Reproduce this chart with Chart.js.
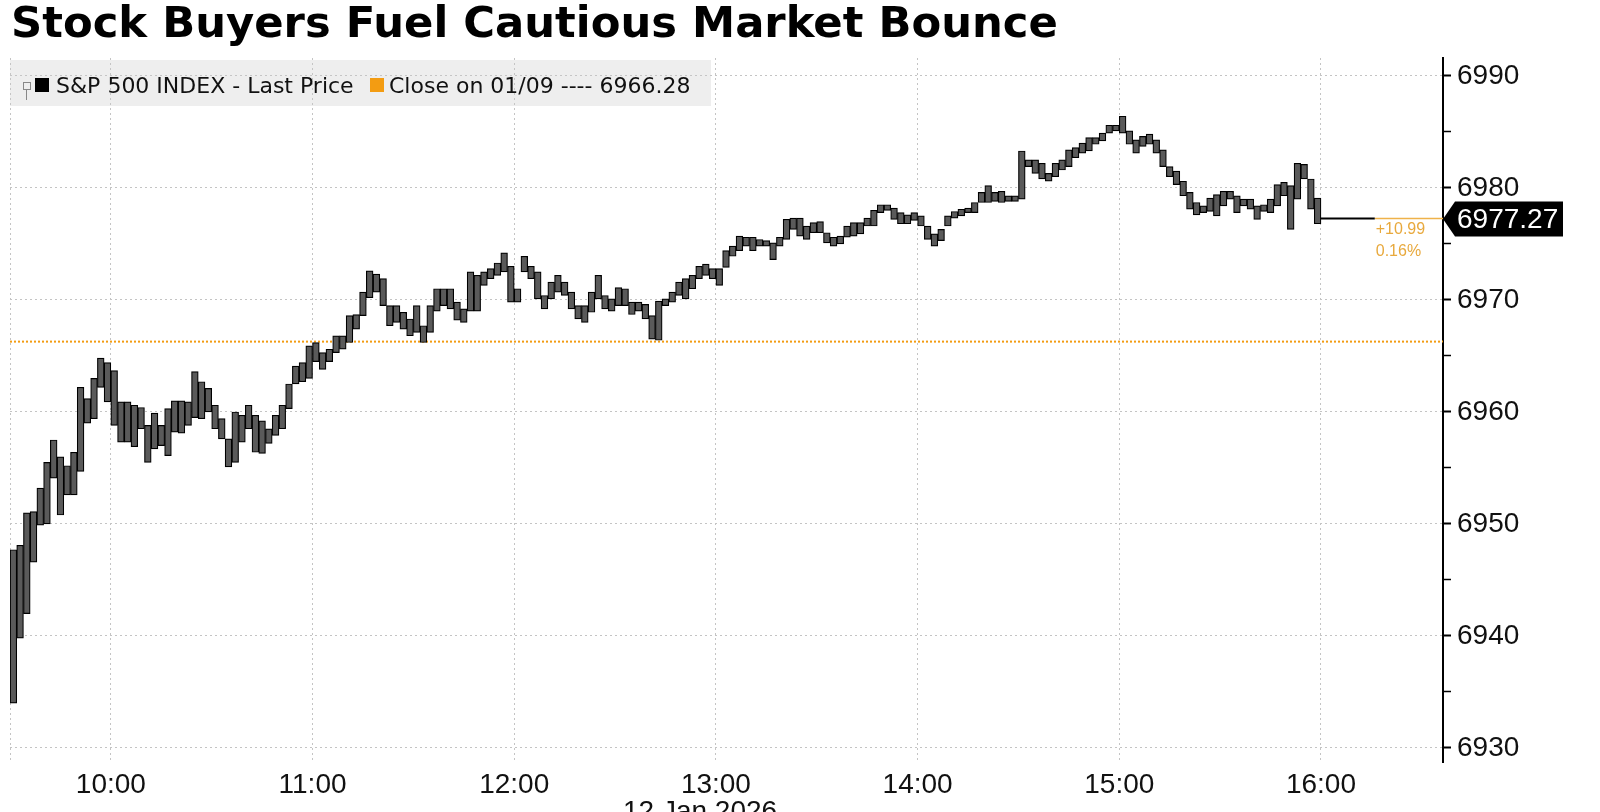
<!DOCTYPE html>
<html>
<head>
<meta charset="utf-8">
<script src="https://cdn.jsdelivr.net/npm/chart.js@4.4.1/dist/chart.umd.min.js"></script>
<style>
  html, body { margin: 0; padding: 0; background: #fff; overflow: hidden; }
  #wrap { position: relative; width: 1600px; height: 812px; overflow: hidden; }
  #chart { position: absolute; left: 0; top: 0; }
  #title { position: absolute; left: 11px; top: 1px; font: bold 43.3px "DejaVu Sans"; line-height: 1; white-space: nowrap; color: #000; }
  #legend { position: absolute; left: 10px; top: 60px; width: 701px; height: 46px; background: rgba(200, 200, 200, 0.3); }
  #legend span { position: absolute; font: 22px "DejaVu Sans"; line-height: 22px; white-space: nowrap; color: #111; top: 15px; }
  .sq { position: absolute; width: 14px; height: 14px; top: 18px; }
  .ico { position: absolute; left: 13px; top: 22px; width: 6px; height: 6px; border: 1px solid #888; }
  .stem { position: absolute; left: 16px; top: 30px; width: 1px; height: 10px; background: #888; }
  #date { position: absolute; left: 623px; top: 797px; font: 28px "Liberation Sans"; line-height: 28px; white-space: nowrap; color: #111; }
</style>
</head>
<body>
<div id="wrap">
  <canvas id="chart" width="1600" height="812"></canvas>
  <div id="title">Stock Buyers Fuel Cautious Market Bounce</div>
  <div id="legend">
    <div class="ico"></div><div class="stem"></div>
    <div class="sq" style="left:25px;background:#000"></div>
    <span id="lg1" style="left:46px"></span>
    <div class="sq" style="left:360px;background:#f39c12"></div>
    <span id="lg2" style="left:379px"></span>
  </div>
  <div id="date">12 Jan 2026</div>
</div>
<script>
// 2-minute bars from 09:30, S&P 500 intraday, 12 Jan 2026
const barHighs = [
  6947.7, 6948.1, 6951.0, 6951.1, 6953.2, 6955.5, 6957.5, 6956.0, 6955.2, 6956.4,
  6962.2, 6961.2, 6963.0, 6964.8, 6964.4, 6963.7, 6960.9, 6960.9, 6960.6, 6960.4,
  6958.8, 6959.9, 6958.8, 6960.3, 6961.0, 6961.0, 6960.9, 6963.6, 6962.7, 6962.1,
  6960.6, 6959.4, 6957.6, 6960.0, 6959.7, 6960.6, 6959.7, 6959.2, 6958.5, 6959.7,
  6960.6, 6962.5, 6964.1, 6964.4, 6965.9, 6966.2, 6965.3, 6965.6, 6966.8, 6966.8,
  6968.6, 6968.7, 6970.7, 6972.6, 6972.3, 6971.9, 6969.5, 6969.5, 6968.9, 6968.3,
  6969.5, 6967.7, 6969.5, 6971.0, 6971.0, 6971.0, 6969.8, 6969.2, 6972.5, 6972.2,
  6972.5, 6972.8, 6973.3, 6974.2, 6973.0, 6971.0, 6973.9, 6973.0, 6972.5, 6970.4,
  6971.6, 6972.2, 6971.6, 6970.7, 6969.5, 6969.5, 6970.7, 6972.2, 6970.4, 6970.1,
  6971.1, 6971.0, 6969.8, 6969.8, 6969.6, 6968.6, 6969.9, 6970.1, 6970.7, 6971.6,
  6971.9, 6972.2, 6973.0, 6973.2, 6972.8, 6972.8, 6974.4, 6974.8, 6975.7, 6975.6,
  6975.6, 6975.4, 6975.3, 6975.1, 6975.6, 6977.2, 6977.3, 6977.3, 6976.6, 6976.9,
  6977.0, 6976.0, 6975.6, 6975.7, 6976.6, 6976.9, 6976.9, 6977.3, 6978.0, 6978.5,
  6978.5, 6978.2, 6977.8, 6977.6, 6977.8, 6977.5, 6976.6, 6975.9, 6976.3, 6977.5,
  6977.9, 6978.1, 6978.2, 6978.7, 6979.6, 6980.2, 6979.6, 6979.7, 6979.3, 6979.3,
  6983.3, 6982.5, 6982.5, 6982.2, 6981.3, 6982.2, 6982.5, 6983.4, 6983.6, 6984.0,
  6984.5, 6984.5, 6984.9, 6985.6, 6985.6, 6986.4, 6985.1, 6984.3, 6984.6, 6984.8,
  6984.3, 6983.4, 6981.9, 6981.5, 6980.6, 6979.6, 6978.7, 6978.4, 6979.1, 6979.4,
  6979.7, 6979.7, 6979.3, 6979.0, 6979.0, 6978.4, 6978.5, 6979.0, 6980.3, 6980.5,
  6980.2, 6982.2, 6982.1, 6980.8, 6979.1
];
const barLows = [
  6934.0, 6939.8, 6942.0, 6946.6, 6949.9, 6950.0, 6954.1, 6950.8, 6952.6, 6952.6,
  6954.7, 6959.0, 6959.4, 6962.2, 6960.9, 6958.8, 6957.3, 6957.3, 6956.9, 6958.5,
  6955.5, 6956.7, 6957.0, 6956.1, 6958.2, 6958.1, 6958.8, 6959.5, 6959.4, 6960.0,
  6958.5, 6957.6, 6955.1, 6955.5, 6957.3, 6958.5, 6956.4, 6956.3, 6957.2, 6957.9,
  6958.5, 6960.3, 6962.5, 6962.7, 6963.0, 6964.5, 6963.8, 6964.5, 6965.3, 6965.6,
  6966.2, 6967.4, 6968.6, 6970.2, 6970.7, 6969.5, 6967.7, 6968.0, 6967.4, 6966.8,
  6967.1, 6966.2, 6967.1, 6969.0, 6969.5, 6969.2, 6968.2, 6968.0, 6969.0, 6969.0,
  6971.3, 6971.9, 6972.2, 6972.5, 6969.8, 6969.8, 6972.5, 6971.9, 6970.1, 6969.2,
  6970.1, 6970.7, 6970.4, 6969.2, 6968.3, 6968.0, 6968.9, 6970.1, 6969.2, 6969.0,
  6969.5, 6969.5, 6968.7, 6969.0, 6968.3, 6966.5, 6966.4, 6969.5, 6969.8, 6970.4,
  6970.1, 6971.0, 6971.9, 6972.2, 6971.9, 6971.3, 6972.9, 6973.9, 6974.4, 6974.8,
  6974.4, 6974.8, 6974.8, 6973.6, 6974.8, 6975.4, 6976.3, 6975.7, 6975.4, 6976.0,
  6976.0, 6975.1, 6974.8, 6975.0, 6975.6, 6975.7, 6975.9, 6976.6, 6976.6, 6977.8,
  6978.0, 6977.2, 6976.8, 6976.8, 6977.1, 6976.6, 6975.4, 6974.8, 6975.3, 6976.6,
  6977.3, 6977.5, 6977.8, 6977.8, 6978.7, 6978.7, 6978.8, 6978.7, 6978.8, 6978.8,
  6979.0, 6981.9, 6981.3, 6980.8, 6980.6, 6981.0, 6981.6, 6981.9, 6982.7, 6983.1,
  6983.3, 6983.9, 6984.2, 6984.9, 6985.1, 6984.9, 6983.9, 6983.1, 6983.7, 6983.9,
  6983.1, 6981.9, 6981.0, 6980.3, 6979.3, 6978.1, 6977.6, 6977.8, 6977.9, 6977.5,
  6978.4, 6979.0, 6977.8, 6978.4, 6978.1, 6977.2, 6977.9, 6977.8, 6978.4, 6979.3,
  6976.3, 6979.0, 6980.8, 6978.1, 6976.8
];
const barMinutes = barHighs.map((_, i) => 2 * i + 1); // centre of each 2-min bar, minutes after 09:30

const prevClose = 6966.28;
const lastPrice = 6977.27;
const netChange = 10.99;
const pctChange = 0.16;
const afterCloseMinutes = [390, 406]; // flat last price after 16:00

const xTickMinutes = [0, 30, 90, 150, 210, 270, 330, 390];
const xTickLabels = ['', '10:00', '11:00', '12:00', '13:00', '14:00', '15:00', '16:00'];
const yTicks = [6930, 6935, 6940, 6945, 6950, 6955, 6960, 6965, 6970, 6975, 6980, 6985, 6990];

const xMax = 426.3;

document.getElementById('lg1').textContent = 'S&P 500 INDEX - Last Price';
document.getElementById('lg2').textContent = 'Close on 01/09 ---- ' + prevClose.toFixed(2);

const tagPlugin = {
  id: 'lastTag',
  afterDraw(chart) {
    const { ctx, scales: { x, y } } = chart;
    const py = Math.round(y.getPixelForValue(lastPrice));
    const ax = x.right;
    ctx.save()
    ctx.fillStyle = '#000'
    ctx.beginPath()
    ctx.moveTo(ax, py)
    ctx.lineTo(ax + 12, py - 17.5)
    ctx.lineTo(1563, py - 17.5)
    ctx.lineTo(1563, py + 17.5)
    ctx.lineTo(ax + 12, py + 17.5)
    ctx.closePath()
    ctx.fill()
    ctx.fillStyle = '#fff'
    ctx.font = '28px "Liberation Sans"'
    ctx.textBaseline = 'middle'
    ctx.fillText(lastPrice.toFixed(2), ax + 14, py + 1)
    ctx.fillStyle = '#e8a93d'
    ctx.font = '16px "Liberation Sans"'
    ctx.textBaseline = 'top'
    const tx = x.getPixelForValue(afterCloseMinutes[1]) + 1
    ctx.fillText('+' + netChange.toFixed(2), tx, py + 3)
    ctx.fillText(pctChange.toFixed(2) + '%', tx, py + 25)
    ctx.restore()
  }
};

const gridGray = '#c4c4c4';

new Chart(document.getElementById('chart'), {
  data: {
    datasets: [
      {
        type: 'bar',
        label: 'S&P 500 INDEX - Last Price',
        data: barMinutes.map((m, i) => ({ x: m, y: [barLows[i], barHighs[i]] })),
        backgroundColor: '#5a5a5a',
        borderColor: '#000',
        borderWidth: 1.2,
        borderSkipped: false,
        barPercentage: 1,
        categoryPercentage: 1,
        grouped: false,
        order: 1
      },
      {
        type: 'line',
        label: 'Close',
        data: [{ x: 0, y: prevClose }, { x: xMax, y: prevClose }],
        borderColor: '#f39c12',
        borderWidth: 2,
        borderDash: [2, 2],
        pointRadius: 0,
        order: 2
      },
      {
        type: 'line',
        label: 'after close',
        data: afterCloseMinutes.map(m => ({ x: m, y: lastPrice })),
        borderColor: '#000',
        borderWidth: 2,
        pointRadius: 0,
        order: 0
      },
      {
        type: 'line',
        label: 'last',
        data: [{ x: afterCloseMinutes[1], y: lastPrice }, { x: xMax, y: lastPrice }],
        borderColor: '#efb24a',
        borderWidth: 1.5,
        pointRadius: 0,
        order: 0
      }
    ]
  },
  options: {
    responsive: false,
    animation: false,
    devicePixelRatio: 1,
    layout: { padding: { top: 58, left: 10, right: 0, bottom: 0 } },
    plugins: { legend: { display: false }, tooltip: { enabled: false } },
    scales: {
      x: {
        type: 'linear',
        position: 'bottom',
        offset: false,
        min: 0,
        max: xMax,
        afterBuildTicks: s => { s.ticks = xTickMinutes.map(v => ({ value: v })) },
        afterFit: s => { s.height = 50 },
        ticks: {
          autoSkip: false,
          maxRotation: 0,
          padding: 6,
          color: '#111',
          font: { family: 'Liberation Sans', size: 28 },
          callback: v => xTickLabels[xTickMinutes.indexOf(v)]
        },
        grid: { offset: false, color: gridGray, lineWidth: 1, drawTicks: false },
        border: { display: false, dash: [2, 3] }
      },
      y: {
        position: 'right',
        min: 6928.75,
        max: 6991.6,
        afterBuildTicks: s => { s.ticks = yTicks.map(v => ({ value: v })) },
        afterFit: s => { s.width = 157 },
        ticks: {
          padding: 6,
          color: '#111',
          font: { family: 'Liberation Sans', size: 28 },
          callback: v => (v % 10 === 0 ? String(v) : '')
        },
        grid: {
          color: c => (c.tick && c.tick.value % 10 === 0 ? gridGray : 'rgba(0,0,0,0)'),
          lineWidth: 1,
          tickColor: '#000',
          tickLength: 8,
          tickWidth: c => (c.tick && c.tick.value % 10 === 0 ? 2 : 1.5)
        },
        border: { display: true, color: '#000', width: 2, dash: [2, 3] }
      }
    }
  },
  plugins: [tagPlugin]
});
</script>
</body>
</html>
